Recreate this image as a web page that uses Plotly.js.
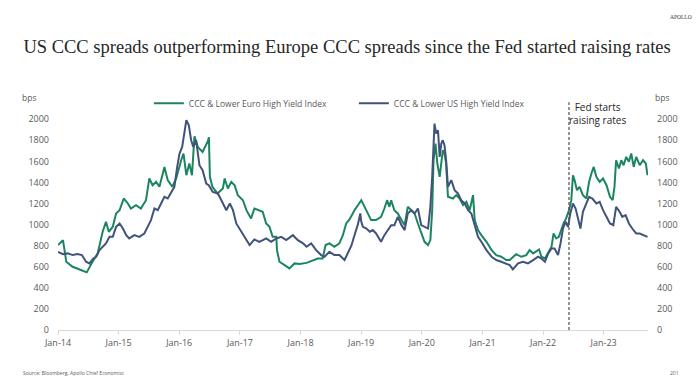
<!DOCTYPE html>
<html>
<head>
<meta charset="utf-8">
<script src="https://cdn.plot.ly/plotly-3.0.1.min.js"></script>
<style>
  html, body { margin: 0; padding: 0; background: #fff; }
  #chart { width: 700px; height: 391px; }
</style>
</head>
<body>
<div id="chart"></div>
<script>
// ---- Data (bps) ----
const euroName = "CCC & Lower Euro High Yield Index";
const usName = "CCC & Lower US High Yield Index";

const euroDates = ["2014-01-01","2014-01-31","2014-02-20","2014-03-30","2014-05-19","2014-06-23","2014-07-28","2014-08-28","2014-09-27","2014-10-17","2014-11-03","2014-11-27","2014-12-17",
"2015-01-07","2015-02-01","2015-02-26","2015-03-16","2015-04-16","2015-05-15","2015-06-15","2015-07-05","2015-07-25","2015-08-15","2015-09-04","2015-10-04","2015-10-24","2015-11-20","2015-12-14",
"2016-01-13","2016-01-27","2016-02-13","2016-03-02","2016-03-18","2016-04-02","2016-04-22","2016-05-21","2016-06-21","2016-06-28","2016-07-04","2016-07-19","2016-08-19","2016-09-20","2016-10-01","2016-10-20","2016-11-10","2016-11-30","2016-12-19",
"2017-01-19","2017-02-09","2017-03-09","2017-03-29","2017-04-28","2017-05-18","2017-06-08","2017-06-28","2017-07-17","2017-08-08","2017-08-12","2017-08-27","2017-09-27","2017-10-26","2017-11-26","2017-12-26",
"2018-02-06","2018-03-15","2018-04-15","2018-05-14","2018-06-01","2018-06-24","2018-07-24","2018-08-23","2018-09-13","2018-10-03","2018-10-23","2018-11-22","2018-12-12",
"2019-01-02","2019-01-22","2019-02-12","2019-03-02","2019-04-01","2019-05-01","2019-05-21","2019-06-07","2019-06-20","2019-07-01","2019-07-20","2019-08-10","2019-09-01","2019-09-20","2019-10-09","2019-10-30","2019-11-19","2019-12-09","2019-12-29",
"2020-01-18","2020-02-08","2020-02-22","2020-03-04","2020-03-12","2020-03-24","2020-04-04","2020-04-18","2020-04-28","2020-05-07","2020-05-17","2020-05-27","2020-06-07","2020-07-07","2020-07-27","2020-08-16","2020-09-06","2020-09-26","2020-10-16","2020-11-05","2020-11-15","2020-12-05","2020-12-25",
"2021-01-25","2021-02-25","2021-03-25","2021-04-24","2021-05-24","2021-06-14","2021-07-03","2021-07-23","2021-08-23","2021-09-22","2021-10-12","2021-11-02","2021-12-08","2021-12-22",
"2022-01-12","2022-02-01","2022-02-21","2022-03-05","2022-03-21","2022-04-06","2022-04-20","2022-05-04","2022-05-20","2022-06-06","2022-06-20","2022-06-30","2022-07-10","2022-07-24","2022-08-09","2022-08-29","2022-09-19","2022-10-05","2022-10-19","2022-11-02","2022-11-18","2022-12-08","2022-12-28",
"2023-01-18","2023-02-08","2023-02-24","2023-03-07","2023-03-17","2023-04-03","2023-04-17","2023-05-01","2023-05-17","2023-06-02","2023-06-16","2023-07-01","2023-07-16","2023-08-06","2023-08-26","2023-09-12","2023-09-22"];
const euroValues = [806,853,648,600,569,547,648,727,932,1027,932,980,1106,
1137,1248,1201,1153,1185,1153,1232,1438,1374,1406,1359,1548,1422,1359,1438,
1611,1675,1469,1580,1469,1839,1738,1690,1790,1830,1454,1359,1296,1343,1438,1343,1406,1374,1280,
1232,1137,1059,1153,1137,1122,1011,979,884,884,758,648,616,585,632,627,
637,664,679,679,806,822,790,822,900,1011,1050,1137,1185,
1232,1169,1106,1043,1043,1074,1153,1232,1169,1232,1137,1106,1043,995,1169,1137,1106,1011,932,
837,806,853,1137,1611,1770,1580,1454,1611,1706,1675,1580,1264,1248,1280,1248,1185,1217,1137,1280,1043,948,900,
837,758,711,695,664,664,695,720,695,711,758,727,764,695,
679,742,790,916,869,884,948,1011,1059,1137,1232,1469,1422,1327,1359,1280,1248,1406,1485,1548,1454,1406,1438,
1374,1264,1232,1359,1611,1533,1611,1564,1643,1596,1675,1548,1643,1564,1611,1580,1469];

const usDates = ["2014-01-01","2014-01-31","2014-03-01","2014-03-30","2014-04-29","2014-05-25","2014-06-19","2014-07-09","2014-08-02","2014-08-19","2014-09-08","2014-09-27","2014-10-17","2014-11-07","2014-11-27","2014-12-17",
"2015-01-07","2015-01-27","2015-02-16","2015-03-06","2015-04-06","2015-05-05","2015-06-05","2015-06-25","2015-07-15","2015-08-05","2015-08-25","2015-09-14","2015-10-04","2015-10-24","2015-11-14","2015-12-03","2015-12-20",
"2016-01-03","2016-01-19","2016-02-03","2016-02-13","2016-02-28","2016-03-13","2016-03-26","2016-04-12","2016-05-02","2016-05-21","2016-06-12","2016-06-27","2016-07-21","2016-08-21","2016-09-11","2016-10-11","2016-11-01","2016-11-20","2016-12-10",
"2017-01-10","2017-02-09","2017-02-28","2017-03-29","2017-04-28","2017-06-08","2017-07-08","2017-08-08","2017-09-07","2017-10-07","2017-11-16","2017-12-16",
"2018-01-16","2018-02-06","2018-03-06","2018-04-05","2018-05-05","2018-05-25","2018-06-24","2018-07-24","2018-08-23","2018-09-23","2018-10-13","2018-11-03","2018-11-22","2018-12-12","2018-12-27",
"2019-01-02","2019-01-12","2019-02-02","2019-02-22","2019-03-12","2019-04-01","2019-05-01","2019-05-21","2019-06-10","2019-07-01","2019-07-20","2019-08-10","2019-09-01","2019-09-20","2019-10-09","2019-10-30","2019-11-19","2019-12-09","2019-12-29",
"2020-01-18","2020-02-08","2020-02-22","2020-03-04","2020-03-18","2020-03-28","2020-04-08","2020-04-18","2020-04-28","2020-05-07","2020-05-17","2020-05-27","2020-06-07","2020-06-27","2020-07-17","2020-08-06","2020-08-26","2020-09-16","2020-10-06","2020-10-26","2020-11-15","2020-12-05","2020-12-25",
"2021-01-25","2021-02-25","2021-03-25","2021-04-24","2021-05-24","2021-06-14","2021-07-03","2021-08-03","2021-09-02","2021-10-02","2021-11-02","2021-12-02","2021-12-22",
"2022-01-12","2022-02-01","2022-02-21","2022-03-11","2022-04-01","2022-04-16","2022-05-01","2022-05-16","2022-05-31","2022-06-14","2022-06-30","2022-07-16","2022-07-30","2022-08-14","2022-08-29","2022-09-15","2022-10-05","2022-10-25","2022-11-18","2022-12-08","2022-12-28",
"2023-01-18","2023-02-08","2023-02-28","2023-03-17","2023-04-07","2023-04-23","2023-05-13","2023-06-02","2023-06-22","2023-07-16","2023-08-06","2023-08-26","2023-09-22"];
const usValues = [742,720,727,711,720,711,648,632,679,695,758,790,822,884,884,979,
1011,963,900,869,900,884,916,979,1043,1153,1137,1201,1264,1248,1311,1359,1548,
1675,1738,1896,1991,1943,1801,1738,1801,1564,1517,1390,1374,1311,1296,1232,1137,1201,1137,1011,
932,853,806,860,837,869,837,869,884,853,900,853,
822,790,822,758,711,695,742,711,711,664,727,800,900,1000,1106,
1027,979,963,932,948,916,837,900,948,995,995,1074,995,948,1106,1137,1106,1153,995,
979,963,1169,1454,1959,1864,1896,1643,1770,1801,1754,1611,1359,1422,1327,1296,1232,1201,1137,1106,995,884,837,
758,695,664,648,632,616,575,632,648,632,664,695,679,
648,727,774,774,711,822,963,1027,979,1106,1201,1153,1074,963,1122,1185,1264,1248,1201,1217,1137,
1074,1011,995,1169,1122,1074,1090,1011,963,916,916,900,884];

const yTicks = [0,200,400,600,800,1000,1200,1400,1600,1800,2000];
const fedDate = "2022-06-06";
const fedLabel = "Fed starts<br>raising rates";

// ---- Styles ----
const green = "#1b8560";
const navy = "#41537a";
const gray = "#595959";
const sans = "Open Sans, Noto Sans, sans-serif";

const traces = [
  { x: euroDates, y: euroValues, name: euroName, type: "scatter", mode: "lines",
    line: { color: green, width: 2 }, yaxis: "y" },
  { x: usDates, y: usValues, name: usName, type: "scatter", mode: "lines",
    line: { color: navy, width: 2 }, yaxis: "y" }
];

const yRange = [0, 2050];

const layout = {
  width: 700, height: 391,
  margin: { l: 58.3, r: 52.3, t: 113.7, b: 61 },
  paper_bgcolor: "#fff", plot_bgcolor: "#fff",
  showlegend: true,
  legend: {
    orientation: "h", x: 0.154, xanchor: "left", y: 1.05, yanchor: "middle",
    font: { family: sans, size: 8.5, color: gray },
    entrywidth: 160, entrywidthmode: "pixels",
    bgcolor: "rgba(0,0,0,0)", itemclick: false, itemdoubleclick: false
  },
  title: {
    text: "US CCC spreads outperforming Europe CCC spreads since the Fed started raising rates",
    font: { family: "Liberation Serif, Times New Roman, serif", size: 18.5, color: "#262626" },
    x: 0.49, xanchor: "center", xref: "paper", y: 0.88, yref: "container", yanchor: "middle"
  },
  xaxis: {
    type: "date",
    range: ["2014-01-01", "2023-09-25"],
    tick0: "2014-01-01", dtick: "M12", tickformat: "%b-%y",
    ticks: "outside", ticklen: 4, tickcolor: "#d9d9d9", tickwidth: 1,
    showline: true, linecolor: "#d9d9d9", linewidth: 1,
    showgrid: false, zeroline: false,
    tickfont: { family: sans, size: 9, color: gray }
  },
  yaxis: {
    range: yRange, tickvals: yTicks, showgrid: false, zeroline: false, showline: false,
    ticks: "", ticklabelstandoff: 8,
    tickfont: { family: sans, size: 9, color: gray }
  },
  yaxis2: {
    range: yRange, tickvals: yTicks, overlaying: "y", side: "right",
    showgrid: false, zeroline: false, showline: false, ticks: "", ticklabelstandoff: 8,
    tickfont: { family: sans, size: 9, color: gray }
  },
  shapes: [
    { type: "line", xref: "x", yref: "paper", x0: fedDate, x1: fedDate, y0: 0, y1: 1.054,
      line: { color: "#505050", width: 1.2, dash: "3px,2px" } }
  ],
  annotations: [
    { text: fedLabel, xref: "x", yref: "paper", x: fedDate, xanchor: "left", xshift: -2,
      y: 1.075, yanchor: "top", showarrow: false, align: "center",
      font: { family: sans, size: 10, color: "#262626" } },
    { text: "bps", xref: "paper", yref: "paper", x: -0.05, xanchor: "center", y: 1.075, yanchor: "middle",
      showarrow: false, font: { family: sans, size: 8.5, color: gray } },
    { text: "bps", xref: "paper", yref: "paper", x: 1.024, xanchor: "center", y: 1.075, yanchor: "middle",
      showarrow: false, font: { family: sans, size: 8.5, color: gray } },
    { text: "APOLLO", xref: "paper", yref: "paper", x: 1.0565, xanchor: "center", y: 1.447, yanchor: "middle",
      showarrow: false, font: { family: "Liberation Serif, serif", size: 5.5, color: "#333" } },
    { text: "Source: Bloomberg, Apollo Chief Economist", xref: "paper", yref: "paper",
      x: -0.062, xanchor: "left", y: -0.2, yanchor: "middle",
      showarrow: false, font: { family: sans, size: 5, color: gray } },
    { text: "201", xref: "paper", yref: "paper", x: 1.045, xanchor: "center", y: -0.2, yanchor: "middle",
      showarrow: false, font: { family: sans, size: 5, color: gray } }
  ]
};

// invisible trace on the right-hand axis so that axis is drawn
traces.push({ x: [euroDates[0]], y: [0], type: "scatter", mode: "lines", yaxis: "y2",
  showlegend: false, hoverinfo: "skip", line: { color: "rgba(0,0,0,0)" } });

Plotly.newPlot("chart", traces, layout, { staticPlot: true, displayModeBar: false });
</script>
</body>
</html>
